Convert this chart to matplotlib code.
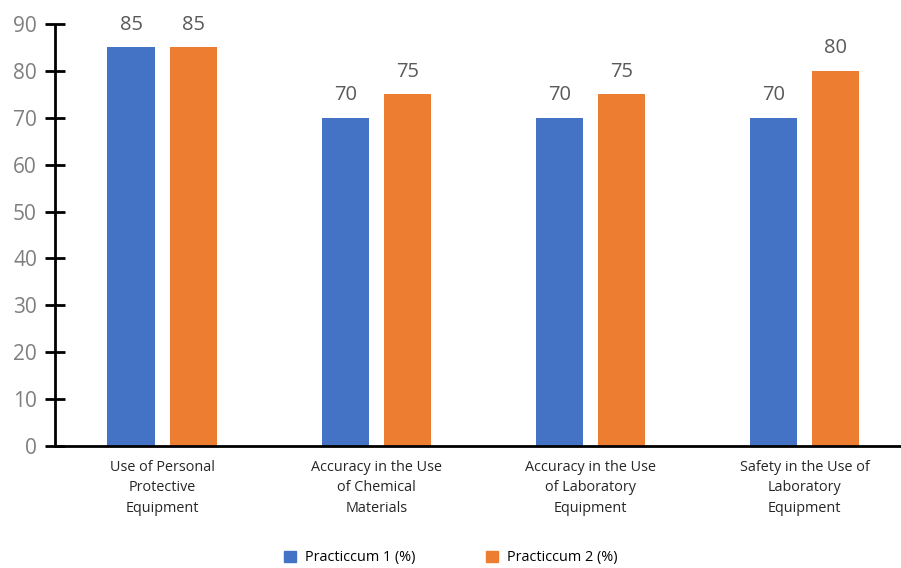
import matplotlib
matplotlib.use("Agg")
from matplotlib import pyplot as plt
from matplotlib.patches import Patch
import numpy as np

categories = [
    "Use of Personal\nProtective\nEquipment",
    "Accuracy in the Use\nof Chemical\nMaterials",
    "Accuracy in the Use\nof Laboratory\nEquipment",
    "Safety in the Use of\nLaboratory\nEquipment",
]
practicum_1 = [85, 70, 70, 70]
practicum_2 = [85, 75, 75, 80]
series_names = ["Practiccum 1 (%)", "Practiccum 2 (%)"]
y_ticks = [0, 10, 20, 30, 40, 50, 60, 70, 80, 90]

blue = "#4472C4"
orange = "#ED7D31"

plt.rcParams["font.family"] = ["Open Sans", "DejaVu Sans"]

fig = plt.figure(figsize=(9.01, 5.68), dpi=100)
ax = fig.add_axes([55 / 901, 122 / 568, 846 / 901, 422 / 568])

x = np.arange(len(categories))
width = 0.22
off = 0.145
b1 = ax.bar(x - off, practicum_1, width, color=blue)
b2 = ax.bar(x + off, practicum_2, width, color=orange)

for bars in (b1, b2):
    for rect in bars:
        h = rect.get_height()
        ax.annotate(f"{h:g}", (rect.get_x() + rect.get_width() / 2, h),
                    xytext=(0, 9), textcoords="offset points",
                    ha="center", va="bottom", fontsize=14.5,
                    color="#595959", annotation_clip=False)

ax.set_xlim(-0.5, 3.45)
ax.set_ylim(0, 90)
ax.set_yticks(y_ticks)
ax.set_xticks(x)
ax.set_xticklabels(categories, fontsize=10.4, color="#262626", linespacing=1.5)
ax.tick_params(axis="x", length=0, pad=10)
ax.tick_params(axis="y", direction="inout", length=14, width=2,
               labelsize=15, labelcolor="#7f7f7f", pad=6)

for s in ("top", "right"):
    ax.spines[s].set_visible(False)
ax.spines["left"].set_linewidth(2)
ax.spines["bottom"].set_linewidth(2)
ax.spines["left"].set_capstyle("butt")

handles = [Patch(color=blue), Patch(color=orange)]
fig.legend(handles, series_names, loc="center", bbox_to_anchor=(0.5, 10 / 568),
           ncol=2, frameon=False, fontsize=10.4, handlelength=0.85,
           handleheight=0.85, handletextpad=0.6, columnspacing=4.9)

fig.savefig("out.png", dpi=100)
